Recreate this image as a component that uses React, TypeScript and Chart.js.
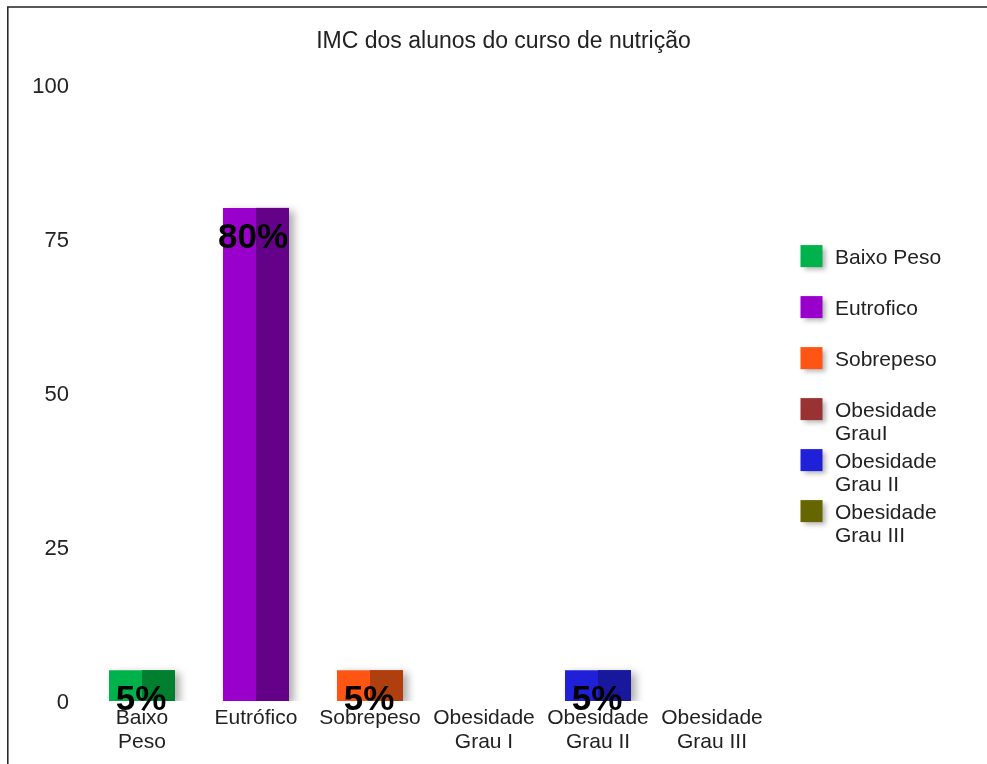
import React, { useEffect, useRef } from "react";
import { Chart, registerables } from "chart.js";

Chart.register(...registerables);

const chartTitle = "IMC dos alunos do curso de nutrição";
const categories: (string | string[])[] = [
  ["Baixo", "Peso"],
  "Eutrófico",
  "Sobrepeso",
  ["Obesidade", "Grau I"],
  ["Obesidade", "Grau II"],
  ["Obesidade", "Grau III"],
];
const values = [5, 80, 5, 0, 5, 0];
const legendLabels: string[][] = [
  ["Baixo Peso"],
  ["Eutrofico"],
  ["Sobrepeso"],
  ["Obesidade", "GrauI"],
  ["Obesidade", "Grau II"],
  ["Obesidade", "Grau III"],
];
const lightColors = ["#00b24c", "#9900cc", "#ff5514", "#993333", "#2020d8", "#666600"];
const darkColors = ["#00802f", "#650088", "#b03f10", "#6e2424", "#18189c", "#4a4a00"];
const yTicks = [0, 25, 50, 75, 100];

const FONT = "'Liberation Sans', Arial, sans-serif";

const framePlugin = {
  id: "frame",
  beforeDraw(chart: any) {
    const ctx = chart.ctx;
    ctx.save();
    ctx.fillStyle = "#ffffff";
    ctx.fillRect(0, 0, chart.width, chart.height);
    ctx.strokeStyle = "#222";
    ctx.lineWidth = 1.5;
    ctx.beginPath();
    ctx.moveTo(chart.width, 7);
    ctx.lineTo(7.8, 7);
    ctx.lineTo(7.8, chart.height);
    ctx.stroke();
    ctx.restore();
  },
};

const barStylePlugin = {
  id: "barStyle",
  beforeDatasetsDraw(chart: any) {
    const ctx = chart.ctx;
    ctx.save();
    ctx.shadowColor = "rgba(0,0,0,0.32)";
    ctx.shadowBlur = 8;
    ctx.shadowOffsetX = 5;
    ctx.shadowOffsetY = 3;
  },
  afterDatasetsDraw(chart: any) {
    const ctx = chart.ctx;
    ctx.restore();
    const meta = chart.getDatasetMeta(0);
    ctx.save();
    meta.data.forEach((el: any, i: number) => {
      const v = values[i];
      if (!v) return;
      const p = el.getProps(["x", "y", "base", "width"], true);
      ctx.fillStyle = darkColors[i];
      ctx.fillRect(p.x, p.y, p.width / 2, p.base - p.y);
    });
    ctx.fillStyle = "#000";
    ctx.font = `bold 35px ${FONT}`;
    ctx.textAlign = "center";
    ctx.textBaseline = "alphabetic";
    meta.data.forEach((el: any, i: number) => {
      const v = values[i];
      if (!v) return;
      const p = el.getProps(["x", "y"], true);
      ctx.fillText(`${v}%`, p.x - (v >= 10 ? 3 : 1), p.y + 40);
    });
    ctx.restore();
  },
};

const legendPlugin = {
  id: "customLegend",
  afterDraw(chart: any) {
    const ctx = chart.ctx;
    const area = chart.chartArea;
    const sx = area.right + 31.5;
    const tx = area.right + 66;
    ctx.save();
    legendLabels.forEach((lines, i) => {
      const top = area.top + 160.5 + 51 * i;
      ctx.save();
      ctx.shadowColor = "rgba(0,0,0,0.3)";
      ctx.shadowBlur = 5;
      ctx.shadowOffsetX = 3;
      ctx.shadowOffsetY = 3;
      ctx.fillStyle = lightColors[i];
      ctx.fillRect(sx, top, 22, 22);
      ctx.restore();
      ctx.fillStyle = "#222";
      ctx.font = `21px ${FONT}`;
      ctx.textAlign = "left";
      ctx.textBaseline = "middle";
      lines.forEach((ln, j) => {
        ctx.fillText(ln, tx, top + 13 + 23 * j);
      });
    });
    ctx.restore();
  },
};

export default function App() {
  const ref = useRef<HTMLCanvasElement>(null);
  useEffect(() => {
    const chart = new Chart(ref.current as HTMLCanvasElement, {
      type: "bar",
      data: {
        labels: categories,
        datasets: [
          {
            data: values,
            backgroundColor: lightColors,
            borderWidth: 0,
            barPercentage: 0.579,
            categoryPercentage: 1,
          },
        ],
      },
      options: {
        responsive: false,
        animation: false,
        devicePixelRatio: 1,
        layout: { padding: { left: 20, right: 0, top: 0, bottom: 0 } },
        plugins: {
          legend: { display: false },
          tooltip: { enabled: false },
          title: {
            display: true,
            text: chartTitle,
            color: "#222",
            font: { family: FONT, size: 23, weight: "normal" },
            padding: { top: 28, bottom: 29 },
          },
        },
        scales: {
          x: {
            grid: { display: false, drawTicks: false },
            border: { display: false },
            ticks: {
              color: "#222",
              font: { family: FONT, size: 21, lineHeight: 1.15 },
              padding: 5,
              maxRotation: 0,
              autoSkip: false,
            },
            afterFit: (s: any) => {
              s.height = 63;
            },
          },
          y: {
            min: 0,
            max: 100,
            grid: { display: false, drawTicks: false },
            border: { display: false },
            ticks: {
              color: "#222",
              font: { family: FONT, size: 22 },
              padding: 16,
              labelOffset: 2,
            },
            afterBuildTicks: (s: any) => {
              s.ticks = yTicks.map((v) => ({ value: v }));
            },
            afterFit: (s: any) => {
              s.width = 65;
            },
          },
          y2: {
            position: "right",
            display: true,
            grid: { display: false, drawTicks: false },
            border: { display: false },
            ticks: { display: false },
            afterFit: (s: any) => {
              s.width = 218;
            },
          },
        },
      } as any,
      plugins: [framePlugin, barStylePlugin, legendPlugin],
    });
    return () => chart.destroy();
  }, []);
  return (
    <canvas
      ref={ref}
      width={987}
      height={764}
      style={{ position: "fixed", left: 0, top: 0, width: 987, height: 764 }}
    />
  );
}
